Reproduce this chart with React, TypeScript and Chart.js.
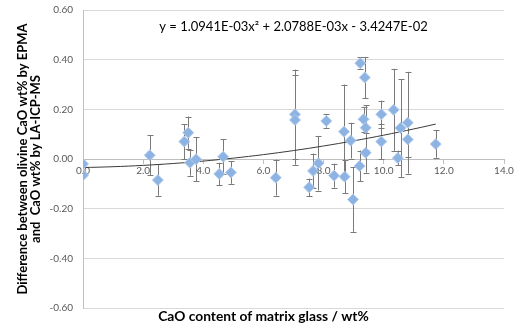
import { useEffect, useRef } from 'react';
import { Chart, registerables } from 'chart.js';

Chart.register(...registerables);

// CaO content of matrix glass (wt%)
const xValues = [
  0.0, 0.0, 2.22, 2.49, 3.37, 3.5, 3.56, 3.76, 4.53, 4.66, 4.92, 6.41, 7.05, 7.05,
  7.52, 7.65, 7.83, 8.09, 8.35, 8.68, 8.7, 8.9, 8.98, 9.2, 9.22, 9.33, 9.37, 9.4,
  9.4, 9.92, 9.92, 10.33, 10.47, 10.56, 10.8, 10.8, 11.73,
];
// Difference between olivine CaO by EPMA and LA-ICP-MS
const yValues = [
  -0.02, -0.065, 0.015, -0.085, 0.07, 0.106, -0.015, -0.001, -0.06, 0.009, -0.054, -0.075, 0.18, 0.157,
  -0.114, -0.048, -0.017, 0.153, -0.067, 0.11, -0.071, 0.074, -0.163, -0.028, 0.386, 0.16, 0.328, 0.126,
  0.025, 0.18, 0.07, 0.198, 0.004, 0.125, 0.146, 0.079, 0.06,
];
// symmetric error bars
const yErrors = [
  0, 0, 0.08, 0.063, 0.07, 0.065, 0.052, 0.088, 0.045, 0.07, 0.046, 0.072, 0.18, 0.18,
  0.035, 0.07, 0.11, 0.027, 0.048, 0.19, 0.067, 0.072, 0.13, 0.062, 0.025, 0.05, 0.083, 0.09,
  0.08, 0.055, 0.07, 0.165, 0.03, 0.197, 0.205, 0.07, 0.055,
];
// polynomial trendline y = a x^2 + b x + c
const trendCoefficients = [1.0941e-3, 2.0788e-3, -3.4247e-2];
const trendRange = [0, 11.73];
const equationLabel = 'y = 1.0941E-03x\u00B2 + 2.0788E-03x - 3.4247E-02';

const xAxisTitle = 'CaO content of matrix glass / wt%';
const yAxisTitle = ['Difference between olivine CaO wt% by EPMA', 'and  CaO wt% by LA-ICP-MS'];

const FONT = 'Lato, "Open Sans", sans-serif';
const W = 515;
const H = 334;

export default function App() {
  const canvasRef = useRef<HTMLCanvasElement | null>(null);

  useEffect(() => {
    if (!canvasRef.current) return;
    document.documentElement.style.overflow = 'hidden';
    document.body.style.overflow = 'hidden';

    const trendX: number[] = [];
    for (let v = trendRange[0]; v < trendRange[1]; v += 0.25) trendX.push(v);
    trendX.push(trendRange[1]);
    const [a, b, c] = trendCoefficients;
    const trendData = trendX.map((x) => ({ x, y: a * x * x + b * x + c }));

    const points = xValues.map((x, i) => ({ x, y: yValues[i] }));

    const errorBarPlugin = {
      id: 'errorBars',
      beforeDatasetsDraw(chart: any) {
        const ctx = chart.ctx;
        const xs = chart.scales.x;
        const ys = chart.scales.y;
        ctx.save();
        ctx.strokeStyle = '#7a7a7a';
        ctx.lineWidth = 1;
        xValues.forEach((xv, i) => {
          const e = yErrors[i];
          if (!e) return;
          const px = Math.round(xs.getPixelForValue(xv)) + 0.5;
          const top = ys.getPixelForValue(yValues[i] + e);
          const bot = ys.getPixelForValue(yValues[i] - e);
          ctx.beginPath();
          ctx.moveTo(px, top);
          ctx.lineTo(px, bot);
          ctx.moveTo(px - 3, Math.round(top) + 0.5);
          ctx.lineTo(px + 3, Math.round(top) + 0.5);
          ctx.moveTo(px - 3, Math.round(bot) + 0.5);
          ctx.lineTo(px + 3, Math.round(bot) + 0.5);
          ctx.stroke();
        });
        ctx.restore();
      },
    };

    const textPlugin = {
      id: 'extraText',
      afterDraw(chart: any) {
        const ctx = chart.ctx;
        const area = chart.chartArea;
        const cx = (area.left + area.right) / 2;
        ctx.save();
        ctx.fillStyle = '#000000';
        ctx.textAlign = 'center';
        ctx.textBaseline = 'middle';
        ctx.font = `13px ${FONT}`;
        ctx.fillText(equationLabel, cx, area.top + 17);
        ctx.font = `bold 13.8px ${FONT}`;
        ctx.fillText(xAxisTitle, cx - 30, area.bottom + 9);
        ctx.restore();
      },
    };

    const chart = new Chart(canvasRef.current, {
      type: 'scatter',
      data: {
        datasets: [
          {
            type: 'scatter',
            data: points,
            pointStyle: 'rectRot',
            pointRadius: 5.5,
            pointHoverRadius: 5.5,
            backgroundColor: '#8db3e2',
            borderColor: '#b3cbee',
            borderWidth: 1,
            order: 1,
          },
          {
            type: 'line',
            data: trendData,
            borderColor: '#3a3a3a',
            borderWidth: 1,
            pointRadius: 0,
            fill: false,
            tension: 0,
            order: 2,
          },
        ],
      },
      options: {
        animation: false,
        responsive: false,
        layout: { padding: { left: 0, right: 11, top: 10, bottom: 26 } },
        plugins: {
          legend: { display: false },
          tooltip: { enabled: false },
          title: { display: false },
        },
        scales: {
          x: {
            type: 'linear',
            min: 0,
            max: 14,
            position: { y: 0 } as any,
            ticks: {
              stepSize: 2,
              callback: (v: any) => Number(v).toFixed(1),
              color: '#595959',
              font: { family: FONT, size: 10 },
              padding: 2,
              maxRotation: 0,
            },
            grid: {
              drawOnChartArea: false,
              drawTicks: true,
              tickLength: 4,
              color: '#bfbfbf',
            },
            border: { color: '#bfbfbf' },
            afterFit: (scale: any) => {
              scale.paddingLeft = 0;
              scale.paddingRight = 0;
            },
          },
          y: {
            type: 'linear',
            min: -0.6,
            max: 0.6,
            ticks: {
              stepSize: 0.2,
              callback: (v: any) => Number(v).toFixed(2),
              color: '#595959',
              font: { family: FONT, size: 10 },
              padding: 10,
            },
            grid: { color: '#d9d9d9', drawTicks: false },
            border: { color: '#bfbfbf' },
            title: {
              display: true,
              text: yAxisTitle,
              color: '#000000',
              font: { family: FONT, size: 13, weight: 'bold', lineHeight: 1.0 },
              padding: { top: 16, bottom: 0 },
            },
            afterFit: (scale: any) => {
              scale.width = 83;
              scale.paddingTop = 0;
              scale.paddingBottom = 0;
            },
          },
        },
      },
      plugins: [errorBarPlugin, textPlugin],
    });

    return () => chart.destroy();
  }, []);

  return (
    <div style={{ position: 'fixed', left: 0, top: 0, width: W, height: H, background: '#ffffff', overflow: 'hidden' }}>
      <canvas ref={canvasRef} width={W} height={H} style={{ display: 'block', width: W, height: H }} />
    </div>
  );
}
